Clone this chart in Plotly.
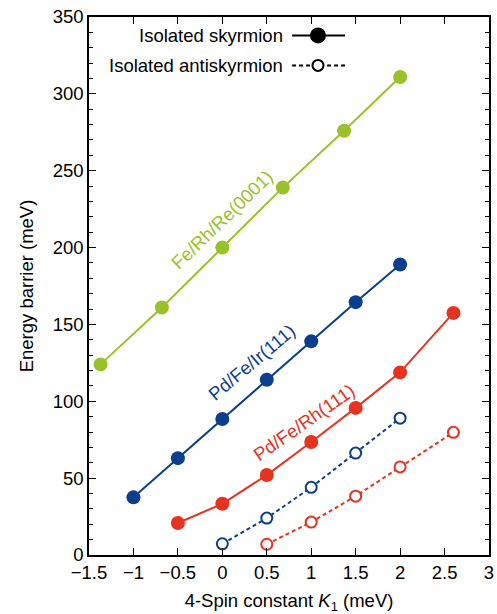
import plotly.graph_objects as go

# Data
fe_rh_re_x = [-1.37, -0.68, 0.0, 0.68, 1.37, 2.0]
fe_rh_re_sk = [124, 161, 200, 239, 276, 311]

pd_fe_ir_x = [-1.0, -0.5, 0.0, 0.5, 1.0, 1.5, 2.0]
pd_fe_ir_sk = [37.5, 63, 88.5, 114, 139, 164.5, 189]

pd_fe_rh_x = [-0.5, 0.0, 0.5, 1.0, 1.5, 2.0, 2.6]
pd_fe_rh_sk = [20.8, 33.3, 52, 73.5, 95.7, 118.8, 157.5]

pd_fe_ir_ax = [0.0, 0.5, 1.0, 1.5, 2.0]
pd_fe_ir_ask = [7.3, 24, 44, 66.3, 89]

pd_fe_rh_ax = [0.5, 1.0, 1.5, 2.0, 2.6]
pd_fe_rh_ask = [7.0, 21.4, 38.3, 57.3, 79.8]

GREEN = "#99c22a"
BLUE = "#0b3f8e"
RED = "#e6321f"
FONT = "Liberation Sans, Arial, Helvetica, sans-serif"
FS = 18.5

fig = go.Figure()

def sk(x, y, c):
    fig.add_trace(go.Scatter(x=x, y=y, mode="lines+markers",
                             line=dict(color=c, width=2),
                             marker=dict(color=c, size=14, symbol="circle"),
                             showlegend=False, cliponaxis=False))

def ask(x, y, c):
    fig.add_trace(go.Scatter(x=x, y=y, mode="lines+markers",
                             line=dict(color=c, width=2, dash="4px,3px"),
                             marker=dict(color="white", size=11, symbol="circle",
                                         line=dict(color=c, width=2)),
                             showlegend=False, cliponaxis=False))

sk(fe_rh_re_x, fe_rh_re_sk, GREEN)
sk(pd_fe_ir_x, pd_fe_ir_sk, BLUE)
sk(pd_fe_rh_x, pd_fe_rh_sk, RED)
ask(pd_fe_ir_ax, pd_fe_ir_ask, BLUE)
ask(pd_fe_rh_ax, pd_fe_rh_ask, RED)

labels = [
    ("Fe/Rh/Re(0001)", 0.0, 218, -44, GREEN),
    ("Pd/Fe/Ir(111)", 0.33, 125, -40, BLUE),
    ("Pd/Fe/Rh(111)", 0.92, 86, -35, RED),
]
for t, x, y, a, c in labels:
    fig.add_annotation(x=x, y=y, text=t, showarrow=False, textangle=a,
                       font=dict(color=c, size=FS, family=FONT))

# Legend (drawn manually: text left of symbol)
leg_rows = [("Isolated skyrmion", 338, "solid", "black"),
            ("Isolated antiskyrmion", 318.5, "4px,3px", "white")]
for t, y, dash, fill in leg_rows:
    fig.add_annotation(x=0.7, y=y, text=t, showarrow=False, xanchor="right",
                       font=dict(color="black", size=FS, family=FONT))
    fig.add_shape(type="line", x0=0.785, x1=1.38, y0=y, y1=y,
                  line=dict(color="black", width=2, dash=dash))
    sz = 7 if fill == "black" else 5.5
    fig.add_shape(type="circle", xsizemode="pixel", ysizemode="pixel",
                  xanchor=1.076, yanchor=y, x0=-sz, x1=sz, y0=-sz, y1=sz,
                  fillcolor=fill, line=dict(color="black", width=2))

axis_common = dict(showline=True, linecolor="black", linewidth=1.5, mirror="ticks",
                   ticks="inside", tickcolor="black", tickwidth=1.2, ticklen=7,
                   showgrid=False, zeroline=False, automargin=False,
                   tickfont=dict(size=FS, family=FONT, color="black"))

fig.update_xaxes(range=[-1.5, 3], dtick=0.5, tick0=0,
                 title=dict(text="4-Spin constant <i>K</i><sub>1</sub> (meV)",
                            font=dict(size=FS, family=FONT, color="black"), standoff=12),
                 **axis_common)
fig.update_yaxes(range=[0, 350], dtick=50, tick0=0,
                 minor=dict(dtick=10, ticks="inside", ticklen=4, tickcolor="black", tickwidth=1.2),
                 title=dict(text="Energy barrier (meV)",
                            font=dict(size=FS, family=FONT, color="black"), standoff=14),
                 **axis_common)

fig.update_layout(width=497, height=614,
                  margin=dict(l=89, r=8, t=17, b=59),
                  plot_bgcolor="white", paper_bgcolor="white",
                  font=dict(family=FONT, color="black"))

fig.write_html("out.html", config={"displayModeBar": False},
               post_script="document.body.style.margin='0px';document.body.style.overflow='hidden';")
